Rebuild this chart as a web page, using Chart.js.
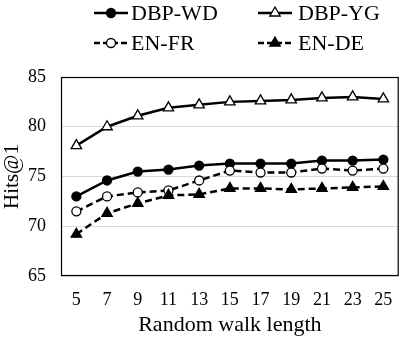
<!DOCTYPE html>
<html>
<head>
<meta charset="utf-8">
<script src="https://cdn.jsdelivr.net/npm/chart.js@4/dist/chart.umd.min.js"></script>
<style>
  html, body { margin: 0; padding: 0; background: #fff; }
</style>
</head>
<body>
<canvas id="chart" width="406" height="340"></canvas>
<script>
// Set default font and color
Chart.defaults.font.family = '"Liberation Serif", "Times New Roman", serif';
Chart.defaults.color = '#000';

// Data
const walkLengths = ['5', '7', '9', '11', '13', '15', '17', '19', '21', '23', '25'];
const dbpWD = [73.0, 74.6, 75.5, 75.7, 76.1, 76.3, 76.3, 76.3, 76.6, 76.6, 76.7];
const dbpYG = [78.1, 80.0, 81.1, 81.9, 82.2, 82.5, 82.6, 82.7, 82.9, 83.0, 82.8];
const enFR = [71.5, 73.0, 73.4, 73.6, 74.6, 75.6, 75.4, 75.4, 75.8, 75.6, 75.8];
const enDE = [69.2, 71.3, 72.3, 73.1, 73.2, 73.8, 73.8, 73.7, 73.8, 73.9, 74.0];
const yTicks = [65, 70, 75, 80, 85];

// Legend slots, 2x2 like the original (dataset index -> position)
const legendSlots = [
  { ds: 3, x: 94, y: 13, textX: 131 },
  { ds: 2, x: 258, y: 13, textX: 298 },
  { ds: 1, x: 94, y: 43, textX: 131 },
  { ds: 0, x: 258, y: 43, textX: 298 },
];

const legendPlugin = {
  id: 'legend2x2',
  afterDraw(chart) {
    const ctx = chart.ctx;
    ctx.save();
    legendSlots.forEach(s => {
      const ds = chart.data.datasets[s.ds];
      // line sample
      ctx.strokeStyle = '#000';
      ctx.lineWidth = 2.5;
      ctx.setLineDash(ds.borderDash.length ? [6, 3] : []);
      ctx.beginPath();
      ctx.moveTo(s.x, s.y);
      ctx.lineTo(s.x + 34, s.y);
      ctx.stroke();
      ctx.setLineDash([]);
      // marker
      ctx.fillStyle = ds.pointBackgroundColor;
      ctx.lineWidth = ds.pointBorderWidth;
      Chart.helpers.drawPoint(ctx, { pointStyle: ds.pointStyle, radius: ds.pointRadius, borderWidth: ds.pointBorderWidth, rotation: 0 }, s.x + 17, s.y);
      // label
      ctx.fillStyle = '#000';
      ctx.font = '22px "Liberation Serif", "Times New Roman", serif';
      ctx.textBaseline = 'middle';
      ctx.textAlign = 'left';
      ctx.fillText(ds.label, s.textX, s.y + 1);
    });
    ctx.restore();
  }
};

// Box around the plot area
const frame = {
  id: 'frame',
  afterDatasetsDraw(chart) {
    const { ctx, chartArea: a } = chart;
    ctx.save();
    ctx.strokeStyle = '#000';
    ctx.lineWidth = 1.2;
    ctx.strokeRect(a.left + 0.5, a.top + 0.5, a.right - a.left - 1, a.bottom - a.top - 1);
    ctx.restore();
  }
};

function series(label, data, dashed, style, fill, radius) {
  return {
    label: label,
    data: data,
    borderColor: '#000',
    borderWidth: 2.5,
    borderDash: dashed ? [7, 4] : [],
    pointStyle: style,
    pointRadius: radius,
    pointBackgroundColor: fill,
    pointBorderColor: '#000',
    pointBorderWidth: 1.3,
    tension: 0,
    fill: false,
  };
}

const ctx = document.getElementById('chart').getContext('2d');
new Chart(ctx, {
  type: 'line',
  data: {
    labels: walkLengths,
    datasets: [
      series('EN-DE', enDE, true, 'triangle', '#000', 6),
      series('EN-FR', enFR, true, 'circle', '#fff', 4.5),
      series('DBP-YG', dbpYG, false, 'triangle', '#fff', 6),
      series('DBP-WD', dbpWD, false, 'circle', '#000', 4.5),
    ]
  },
  options: {
    responsive: false,
    animation: false,
    layout: { padding: { left: 0, right: 2, top: 77, bottom: 0 } },
    scales: {
      x: {
        offset: true,
        grid: { display: false },
        border: { display: false },
        ticks: { font: { size: 18 }, padding: 5, maxRotation: 0, autoSkip: false },
        title: { display: true, text: 'Random walk length', font: { size: 22 }, padding: { top: 0, bottom: 2 } },
        afterFit(scale) { scale.height = 64; }
      },
      y: {
        min: 65,
        max: 85,
        afterBuildTicks(scale) { scale.ticks = yTicks.map(v => ({ value: v })); },
        grid: { color: '#d9d9d9', lineWidth: 1, drawTicks: false },
        border: { display: false },
        ticks: { font: { size: 18 }, padding: 15 },
        title: { display: true, text: 'Hits@1', font: { size: 21 }, padding: 0 },
        afterFit(scale) { scale.width = 61; }
      }
    },
    plugins: {
      legend: { display: false },
      tooltip: { enabled: false }
    }
  },
  plugins: [frame, legendPlugin]
});
</script>
</body>
</html>
